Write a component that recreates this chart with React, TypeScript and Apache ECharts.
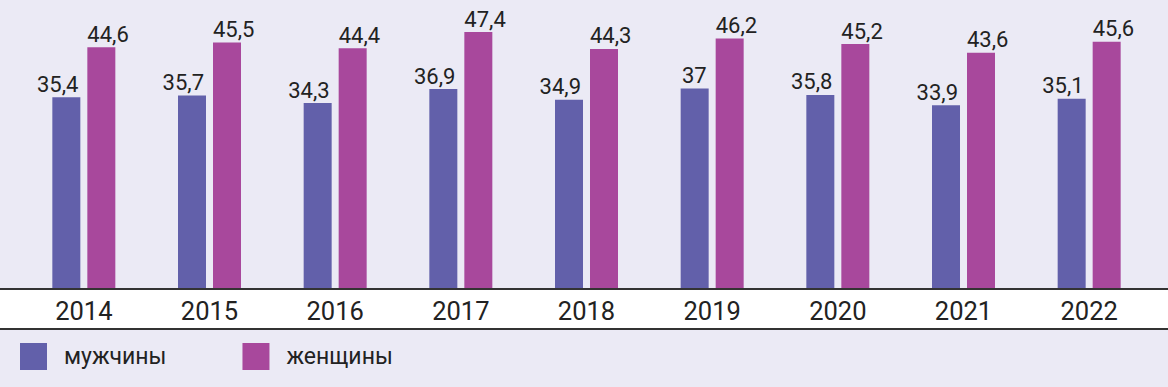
import React, { useEffect, useRef } from "react";
import * as echarts from "echarts";

const years = ["2014", "2015", "2016", "2017", "2018", "2019", "2020", "2021", "2022"];
const men = [35.4, 35.7, 34.3, 36.9, 34.9, 37, 35.8, 33.9, 35.1];
const women = [44.6, 45.5, 44.4, 47.4, 44.3, 46.2, 45.2, 43.6, 45.6];
const seriesNames = ["мужчины", "женщины"];

const COND = "Roboto, sans-serif";
const fmt = (v: number) => String(v).replace(".", ",");

export default function App() {
  const ref = useRef<HTMLDivElement>(null);
  useEffect(() => {
    document.body.style.margin = "0";
    const chart = echarts.init(ref.current!, null, { renderer: "svg" });
    const label = {
      show: true,
      position: "top" as const,
      distance: 2,
      color: "#222",
      fontFamily: COND,
      fontSize: 22,
      formatter: (p: any) => fmt(p.value),
    };
    chart.setOption({
      animation: false,
      backgroundColor: "#ebeaf5",
      grid: { left: 21, right: 16, top: 18, bottom: 98 },
      legend: {
        left: 20,
        top: 343,
        padding: 0,
        itemWidth: 27,
        itemHeight: 27,
        itemGap: 76,
        icon: "rect",
        textStyle: { color: "#222", fontSize: 23, fontFamily: "Roboto, 'Noto Sans', sans-serif", padding: [0, 0, 0, 12] },
        data: seriesNames,
      },
      xAxis: {
        type: "category",
        data: years,
        axisLine: { show: false },
        axisTick: { show: false },
        axisLabel: { color: "#222", fontFamily: COND, fontSize: 25.5, margin: 9 },
      },
      yAxis: { type: "value", min: 0, max: 50, show: false, splitLine: { show: false } },
      graphic: [
        { type: "rect", z: 0, shape: { x: 0, y: 289, width: 1168, height: 40 }, style: { fill: "#ffffff" } },
        { type: "line", z: 10, shape: { x1: 0, y1: 289, x2: 1168, y2: 289 }, style: { stroke: "#333", lineWidth: 2 } },
        { type: "line", z: 10, shape: { x1: 0, y1: 329, x2: 1168, y2: 329 }, style: { stroke: "#333", lineWidth: 2 } },
      ],
      series: [
        {
          name: seriesNames[0], type: "bar", data: men, barWidth: 28, barGap: "25%",
          itemStyle: { color: "#6260aa" },
          label: { ...label, align: "right", offset: [12, 0] },
        },
        {
          name: seriesNames[1], type: "bar", data: women, barWidth: 28, barGap: "25%",
          itemStyle: { color: "#a8489c" },
          label: { ...label, align: "left", offset: [-14, 0] },
        },
      ],
    });
    return () => chart.dispose();
  }, []);
  return <div ref={ref} style={{ width: 1168, height: 387 }} />;
}
